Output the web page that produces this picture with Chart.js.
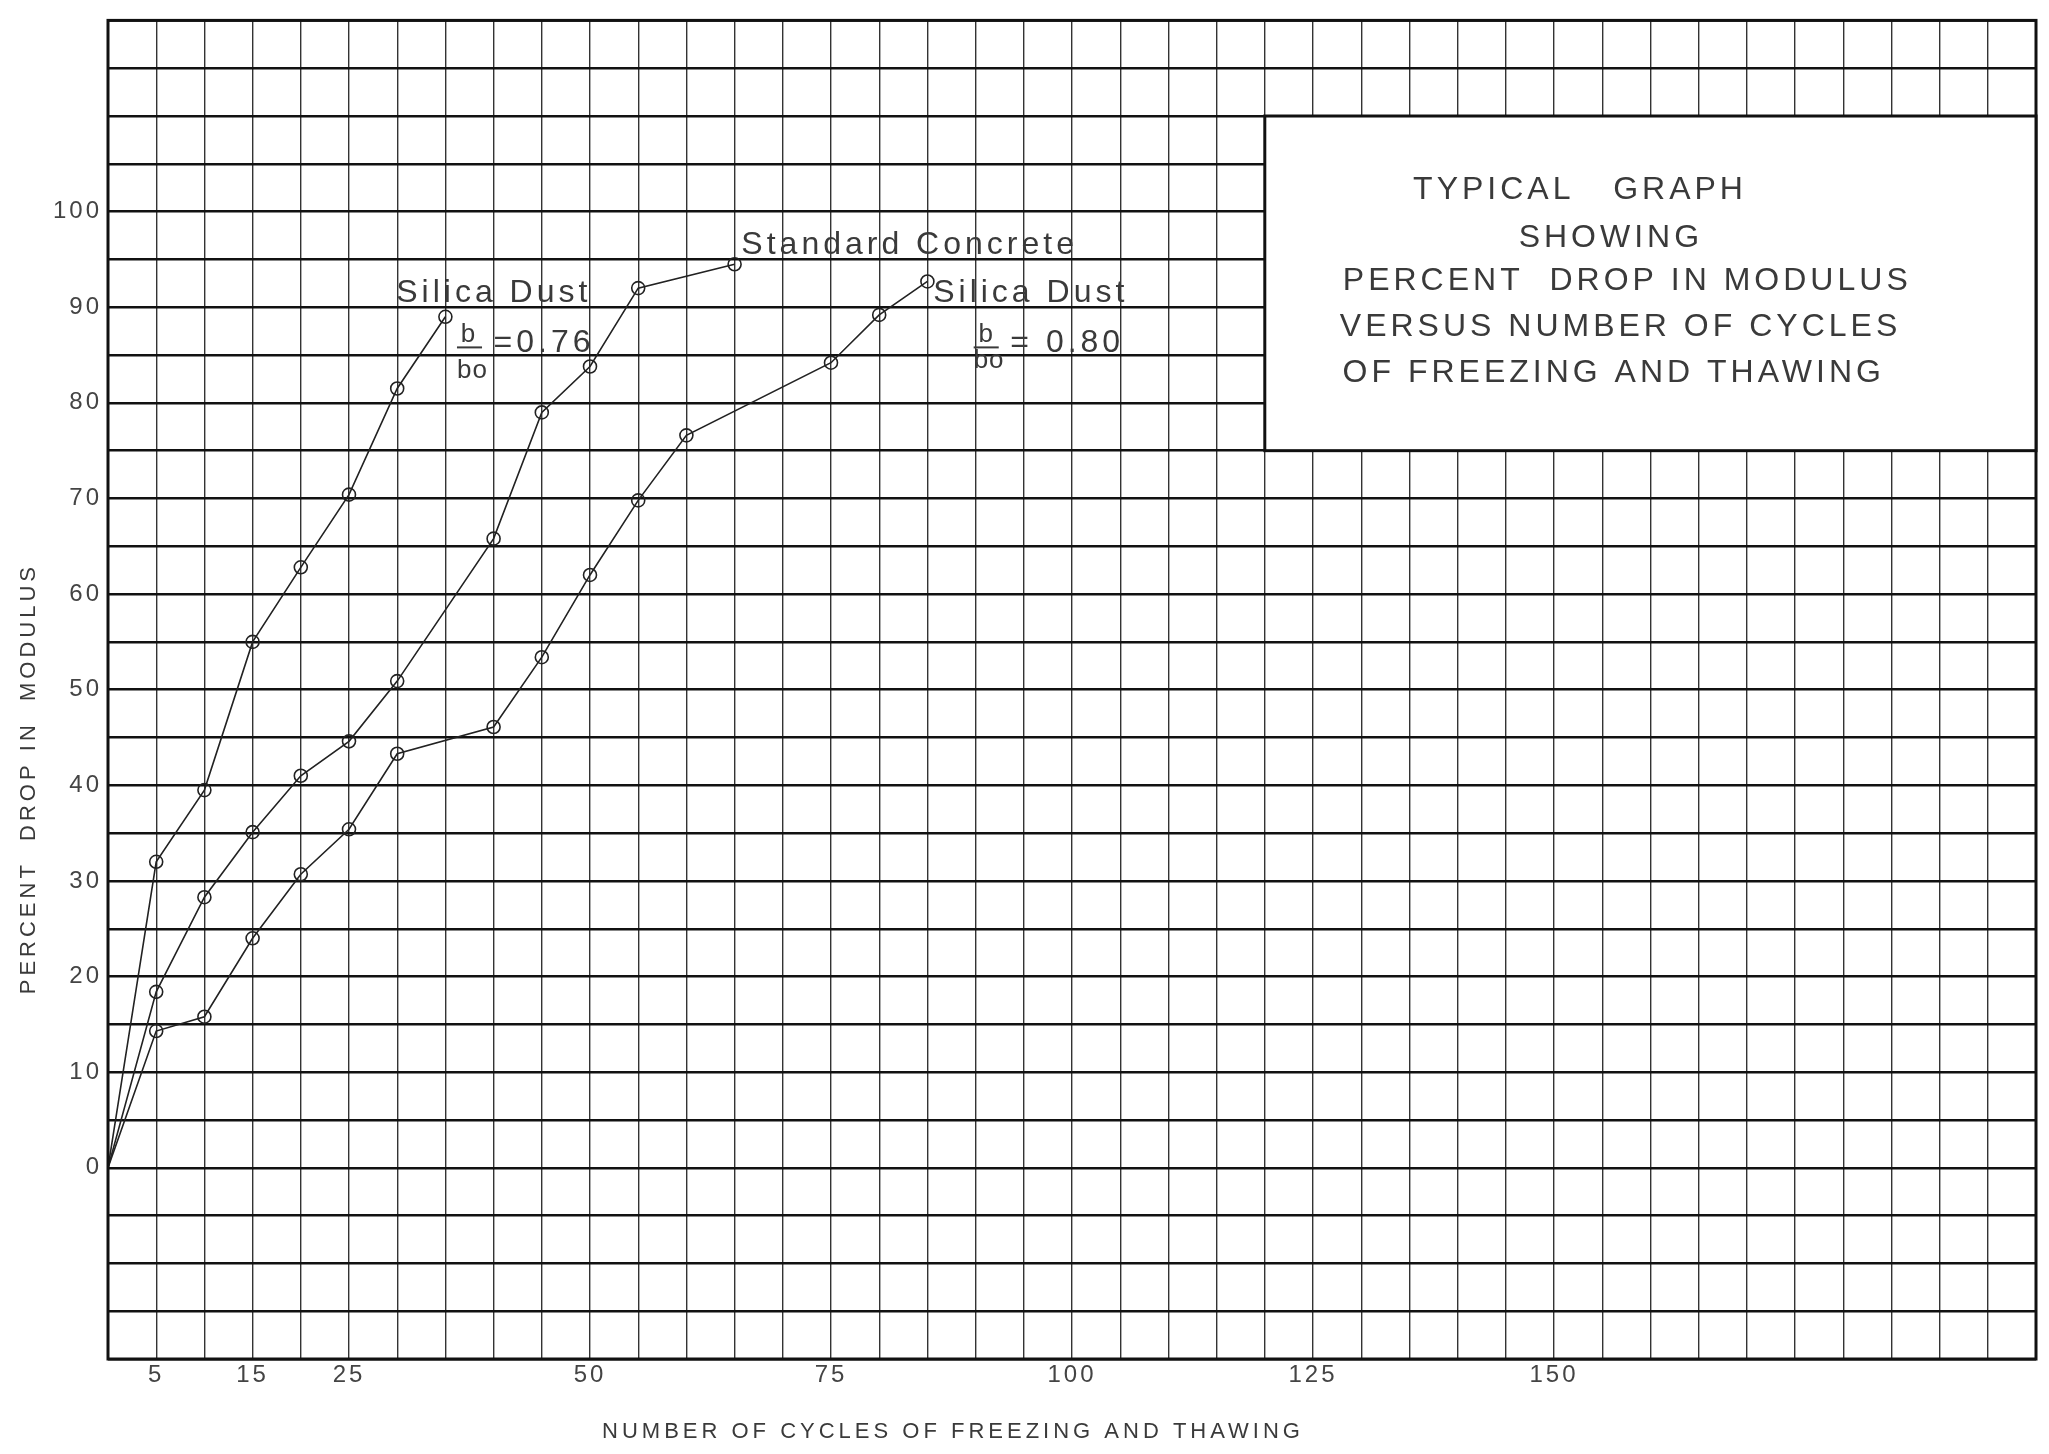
<!DOCTYPE html>
<html>
<head>
<meta charset="utf-8">
<script src="https://cdn.jsdelivr.net/npm/chart.js@4.4.1/dist/chart.umd.min.js"></script>
<style>
  html, body { margin: 0; padding: 0; background: #fff; overflow: hidden; }
  canvas { display: block; }
</style>
</head>
<body>
<canvas id="freezeChart" width="2049" height="1454"></canvas>
<script>
// cycles of freezing and thawing / percent drop in modulus
const cycles76 = [0, 5, 10, 15, 20, 25, 30, 35];
const drop76 = [0, 32, 39.5, 55, 62.8, 70.4, 81.5, 89];

const cyclesStd = [0, 5, 10, 15, 20, 25, 30, 40, 45, 50, 55, 65];
const dropStd = [0, 18.4, 28.3, 35.1, 41, 44.6, 50.9, 65.8, 79, 83.8, 92, 94.5];

const cycles80 = [0, 5, 10, 15, 20, 25, 30, 40, 45, 50, 55, 60, 75, 80, 85];
const drop80 = [0, 14.3, 15.8, 24, 30.7, 35.4, 43.3, 46.1, 53.4, 62, 69.8, 76.6, 84.2, 89.2, 92.7];

const xTickLabels = [5, 15, 25, 50, 75, 100, 125, 150];
const yTickLabels = [0, 10, 20, 30, 40, 50, 60, 70, 80, 90, 100];

const boxLines = [
  'TYPICAL   GRAPH',
  'SHOWING',
  'PERCENT  DROP IN MODULUS',
  'VERSUS NUMBER OF CYCLES',
  'OF FREEZING AND THAWING'
];

function pts(xs, ys) {
  return xs.map((x, i) => ({ x: x, y: ys[i] }));
}

const ink = '#222';
const textInk = '#3a3a3a';
const font = '"Liberation Sans", Arial, sans-serif';

// hand lettering on the sheet, placed in data units
const notes = [
  { text: 'Silica Dust', x: 29.9, y: 91.5, size: 32 },
  { text: 'b', x: 37.4, y: 87.1, size: 26, align: 'center' },
  { text: 'bo', x: 37.8, y: 83.4, size: 26, align: 'center' },
  { text: '=0.76', x: 40.0, y: 86.2, size: 32 },
  { text: 'Standard Concrete', x: 65.7, y: 96.5, size: 32 },
  { text: 'Silica Dust', x: 85.6, y: 91.5, size: 32 },
  { text: 'b', x: 91.1, y: 87.1, size: 26, align: 'center' },
  { text: 'bo', x: 91.4, y: 84.4, size: 26, align: 'center' },
  { text: '= 0.80', x: 93.6, y: 86.2, size: 32 }
];
const fracBars = [
  { x1: 36.2, x2: 38.8, y: 85.8 },
  { x1: 89.8, x2: 92.4, y: 85.8 }
];
const boxText = [
  { x: 152.7, y: 102.2 },
  { x: 155.9, y: 97.2 },
  { x: 157.6, y: 92.7 },
  { x: 156.9, y: 87.9 },
  { x: 156.2, y: 83.1 }
];

const paperNotes = {
  id: 'paperNotes',
  beforeDraw(chart) {
    chart.ctx.letterSpacing = '3px';
  },
  afterDraw(chart) {
    const ctx = chart.ctx;
    const xs = chart.scales.x, ys = chart.scales.y;
    const a = chart.chartArea;
    ctx.save();

    // heavy outer frame
    ctx.strokeStyle = '#111';
    ctx.lineWidth = 3;
    ctx.strokeRect(a.left, a.top, a.right - a.left, a.bottom - a.top);

    // title box
    const bx1 = xs.getPixelForValue(120), bx2 = xs.getPixelForValue(200);
    const by1 = ys.getPixelForValue(110), by2 = ys.getPixelForValue(75);
    ctx.fillStyle = '#fff';
    ctx.fillRect(bx1, by1, bx2 - bx1, by2 - by1);
    ctx.strokeRect(bx1, by1, bx2 - bx1, by2 - by1);

    ctx.fillStyle = textInk;
    ctx.textBaseline = 'middle';
    ctx.textAlign = 'center';
    ctx.font = '32px ' + font;
    ctx.letterSpacing = '4px';
    boxLines.forEach((t, i) => {
      ctx.fillText(t, xs.getPixelForValue(boxText[i].x), ys.getPixelForValue(boxText[i].y));
    });

    // curve labels
    notes.forEach(n => {
      ctx.font = n.size + 'px ' + font;
      ctx.textAlign = n.align || 'left';
      ctx.letterSpacing = n.size > 30 ? '4px' : '1px';
      ctx.fillText(n.text, xs.getPixelForValue(n.x), ys.getPixelForValue(n.y));
    });
    ctx.strokeStyle = textInk;
    ctx.lineWidth = 2;
    fracBars.forEach(b => {
      ctx.beginPath();
      ctx.moveTo(xs.getPixelForValue(b.x1), ys.getPixelForValue(b.y));
      ctx.lineTo(xs.getPixelForValue(b.x2), ys.getPixelForValue(b.y));
      ctx.stroke();
    });

    // axis titles
    ctx.font = '22px ' + font;
    ctx.letterSpacing = '4px';
    ctx.textAlign = 'center';
    ctx.fillText('NUMBER OF CYCLES OF FREEZING AND THAWING', 953, 1432);
    ctx.translate(29, ys.getPixelForValue(40.7));
    ctx.rotate(-Math.PI / 2);
    ctx.fillText('PERCENT  DROP IN  MODULUS', 0, 0);
    ctx.restore();
  }
};

const lineStyle = {
  borderColor: ink,
  borderWidth: 1.6,
  pointBorderColor: ink,
  pointBorderWidth: 1.6,
  pointBackgroundColor: 'rgba(0,0,0,0)',
  pointRadius: c => (c.raw && c.raw.x === 0 ? 0 : 6.5),
  tension: 0,
  fill: false
};

const ctx = document.getElementById('freezeChart').getContext('2d');

const freezeChart = new Chart(ctx, {
  type: 'line',
  data: {
    datasets: [
      Object.assign({ label: 'Silica Dust b/bo = 0.76', data: pts(cycles76, drop76) }, lineStyle),
      Object.assign({ label: 'Standard Concrete', data: pts(cyclesStd, dropStd) }, lineStyle),
      Object.assign({ label: 'Silica Dust b/bo = 0.80', data: pts(cycles80, drop80) }, lineStyle)
    ]
  },
  options: {
    responsive: false,
    devicePixelRatio: 1,
    animation: false,
    layout: { padding: { top: 16, right: 13, left: 0, bottom: 0 } },
    plugins: {
      legend: { display: false },
      tooltip: { enabled: false }
    },
    scales: {
      x: {
        type: 'linear',
        min: 0,
        max: 200,
        afterFit: s => { s.height = 95; },
        afterBuildTicks: s => { s.ticks = []; for (let v = 0; v <= 200; v += 5) s.ticks.push({ value: v }); },
        ticks: {
          autoSkip: false,
          maxRotation: 0,
          padding: 2,
          color: '#444',
          font: { family: font, size: 24 },
          callback: v => (xTickLabels.includes(v) ? String(v) : '')
        },
        grid: { color: '#333', lineWidth: 1.4, drawTicks: false },
        border: { display: false }
      },
      y: {
        type: 'linear',
        min: -20,
        max: 120,
        afterFit: s => { s.width = 108; },
        afterBuildTicks: s => { s.ticks = []; for (let v = -20; v <= 120; v += 5) s.ticks.push({ value: v }); },
        ticks: {
          autoSkip: false,
          padding: 6,
          color: '#444',
          font: { family: font, size: 24 },
          callback: v => (yTickLabels.includes(v) ? String(v) : '')
        },
        grid: { color: '#111', lineWidth: 2.4, drawTicks: false },
        border: { display: false }
      }
    }
  },
  plugins: [paperNotes]
});
</script>
</body>
</html>
